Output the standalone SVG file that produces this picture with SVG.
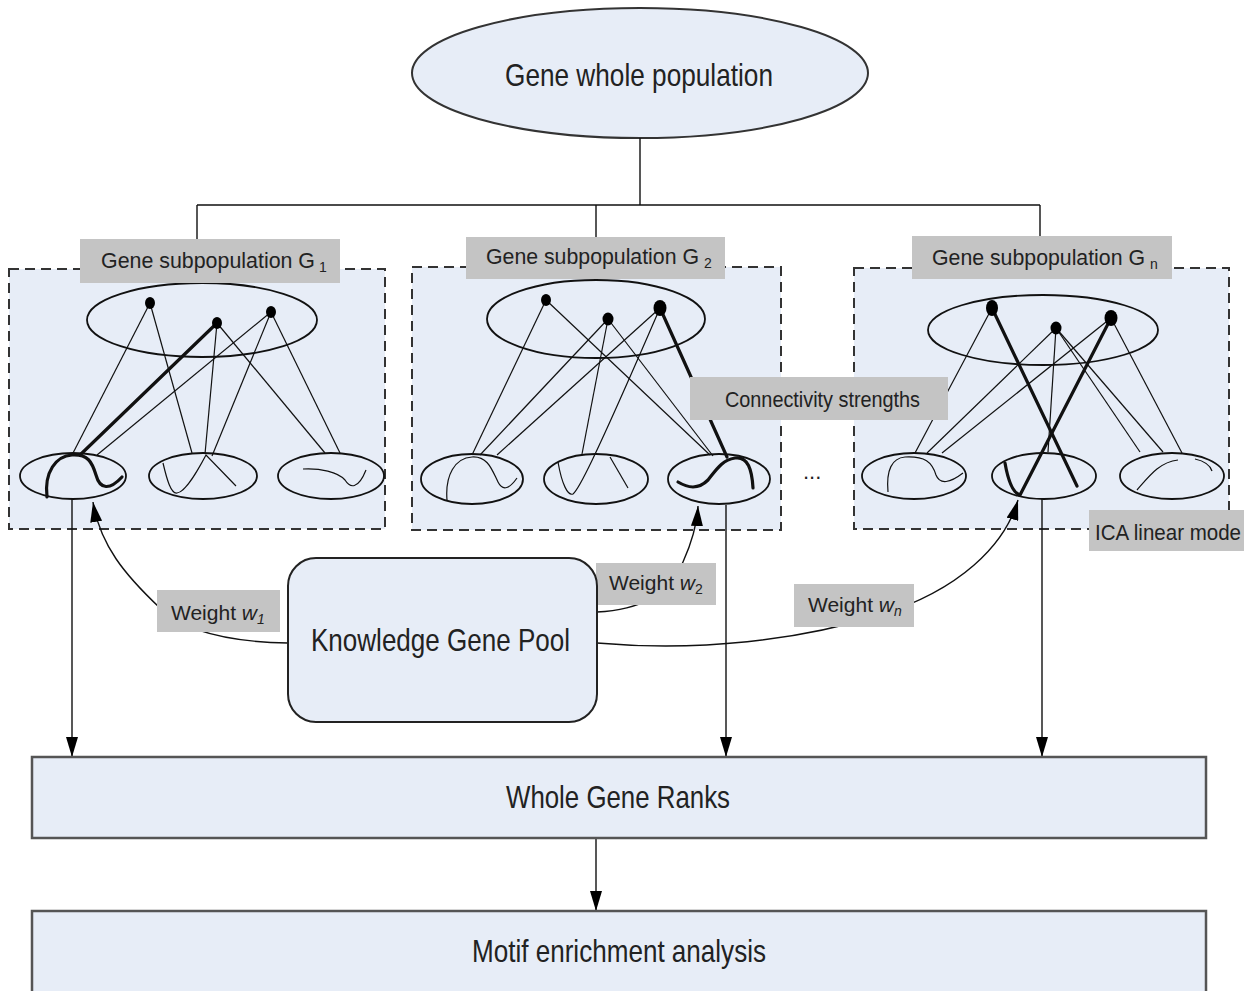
<svg xmlns="http://www.w3.org/2000/svg" width="1244" height="991" viewBox="0 0 1244 991">
<defs>
<style>
.t{font-family:"Liberation Sans",Arial,sans-serif;fill:#222}
.big{font-size:32px}
.mid{font-size:22px}
.sub{font-size:14px}
.lab{fill:#c4c4c4;stroke:none}
.panel{fill:#e7edf7;stroke:#333;stroke-width:2;stroke-dasharray:10 6}
.ell{fill:none;stroke:#111;stroke-width:1.8}
.thin{fill:none;stroke:#111;stroke-width:1.2}
.thick{fill:none;stroke:#111;stroke-width:3.2;stroke-linecap:round}
.conn{fill:none;stroke:#111;stroke-width:1.4}
.box{fill:#e7edf7;stroke:#555;stroke-width:2.5}
</style>
<marker id="ah" markerUnits="userSpaceOnUse" markerWidth="20" markerHeight="12" refX="20" refY="6" orient="auto">
<path d="M0,0 L20,6 L0,12 z" fill="#000"/>
</marker>
</defs>
<rect width="1244" height="991" fill="#fff"/>

<g id="whole-population">
<ellipse cx="640" cy="73" rx="228" ry="65" fill="#e7edf7" stroke="#333" stroke-width="2"/>
<text class="t big" x="505" y="86" textLength="268" lengthAdjust="spacingAndGlyphs">Gene whole population</text>
</g>

<g id="panel-1">
<rect class="panel" x="9" y="269" width="376" height="260"/>
<ellipse class="ell" cx="202" cy="320" rx="115" ry="37"/>
<ellipse class="ell" cx="73" cy="476" rx="53" ry="23"/>
<ellipse class="ell" cx="203" cy="476" rx="54" ry="23"/>
<ellipse class="ell" cx="331" cy="476" rx="53" ry="23"/>
<line class="thin" x1="150" y1="303" x2="72" y2="455"/>
<line class="thin" x1="150" y1="303" x2="192" y2="453"/>
<line class="thin" x1="217" y1="323" x2="205" y2="454"/>
<line class="thin" x1="217" y1="323" x2="325" y2="453"/>
<line class="thin" x1="271" y1="312" x2="97" y2="455"/>
<line class="thin" x1="271" y1="312" x2="212" y2="456"/>
<line class="thin" x1="271" y1="312" x2="340" y2="453"/>
<line class="thick" x1="217" y1="323" x2="80" y2="455"/>
<path class="thick" d="M47,497 C44,472 56,456 72,455 C88,454 92,462 96,475 C100,490 110,490 122,477"/>
<path class="thin" d="M163,463 C167,480 171,494 177,493 C186,492 198,470 206,455 L236,486"/>
<path class="thin" d="M303,469 C320,468 338,472 345,480 C350,488 358,490 366,470"/>
<ellipse cx="150" cy="303" rx="5" ry="6" fill="#000"/>
<ellipse cx="217" cy="323" rx="5" ry="6" fill="#000"/>
<ellipse cx="271" cy="312" rx="5" ry="6" fill="#000"/>
<rect class="lab" x="80" y="239" width="260" height="44"/>
<text class="t mid" x="101" y="268" textLength="214" lengthAdjust="spacingAndGlyphs">Gene subpopulation G</text>
<text class="t sub" x="319" y="272">1</text>
</g>

<g id="panel-2">
<rect class="panel" x="412" y="267" width="369" height="263"/>
<ellipse class="ell" cx="596" cy="319" rx="109" ry="39"/>
<ellipse class="ell" cx="472" cy="479" rx="51" ry="25"/>
<ellipse class="ell" cx="596" cy="479" rx="52" ry="25"/>
<ellipse class="ell" cx="719" cy="479" rx="51" ry="25"/>
<line class="thin" x1="546" y1="300" x2="472" y2="455"/>
<line class="thin" x1="546" y1="300" x2="710" y2="455"/>
<line class="thin" x1="608" y1="319" x2="480" y2="455"/>
<line class="thin" x1="608" y1="319" x2="582" y2="454"/>
<line class="thin" x1="608" y1="319" x2="713" y2="456"/>
<line class="thin" x1="660" y1="308" x2="497" y2="455"/>
<path class="thin" d="M558,462 C562,485 568,496 573,494 C578,490 590,470 660,308"/>
<line class="thin" x1="610" y1="457" x2="628" y2="488"/>
<line class="thick" x1="660" y1="308" x2="727" y2="457"/>
<path class="thin" d="M447,500 C445,475 455,458 472,457 C488,456 492,470 498,482 C503,492 510,488 517,478"/>
<path class="thick" d="M678,482 C688,488 698,490 708,480 C716,470 722,460 735,458 C748,456 752,470 753,488"/>
<ellipse cx="546" cy="300" rx="5" ry="6" fill="#000"/>
<ellipse cx="608" cy="319" rx="5.5" ry="6.5" fill="#000"/>
<ellipse cx="660" cy="308" rx="6.5" ry="8" fill="#000"/>
<rect class="lab" x="466" y="237" width="259" height="42"/>
<text class="t mid" x="486" y="264" textLength="213" lengthAdjust="spacingAndGlyphs">Gene subpopulation G</text>
<text class="t sub" x="704" y="268">2</text>
</g>

<g id="panel-n">
<rect class="panel" x="854" y="268" width="375" height="261"/>
<ellipse class="ell" cx="1043" cy="330" rx="115" ry="35"/>
<ellipse class="ell" cx="914" cy="476" rx="52" ry="23"/>
<ellipse class="ell" cx="1044" cy="476" rx="52" ry="23"/>
<ellipse class="ell" cx="1172" cy="476" rx="52" ry="23"/>
<line class="thin" x1="992" y1="308" x2="915" y2="453"/>
<line class="thin" x1="1056" y1="328" x2="927" y2="453"/>
<line class="thin" x1="1056" y1="328" x2="1048" y2="452"/>
<line class="thin" x1="1056" y1="328" x2="1140" y2="452"/>
<line class="thin" x1="1056" y1="328" x2="1163" y2="452"/>
<line class="thin" x1="1111" y1="318" x2="942" y2="453"/>
<line class="thin" x1="1111" y1="318" x2="1182" y2="453"/>
<line class="thick" x1="992" y1="308" x2="1077" y2="486"/>
<path class="thick" d="M1005,463 C1008,480 1013,493 1020,495 L1111,318"/>
<path class="thin" d="M888,492 C886,470 892,458 905,457 C925,456 932,462 936,475 C940,485 950,483 963,473"/>
<path class="thin" d="M1137,490 C1150,475 1160,462 1178,460"/>
<path class="thin" d="M1195,459 C1204,461 1210,465 1212,471"/>
<ellipse cx="992" cy="308" rx="6" ry="8" fill="#000"/>
<ellipse cx="1056" cy="328" rx="5.5" ry="6.5" fill="#000"/>
<ellipse cx="1111" cy="318" rx="6.5" ry="8" fill="#000"/>
<rect class="lab" x="912" y="236" width="260" height="43"/>
<text class="t mid" x="932" y="265" textLength="213" lengthAdjust="spacingAndGlyphs">Gene subpopulation G</text>
<text class="t sub" x="1150" y="269">n</text>
</g>

<g id="connectivity-label">
<rect class="lab" x="690" y="377" width="258" height="43"/>
<text class="t mid" x="725" y="407" textLength="195" lengthAdjust="spacingAndGlyphs">Connectivity strengths</text>
</g>

<g id="ellipsis">
<text class="t mid" x="803" y="479">...</text>
</g>

<g id="ica-label">
<rect class="lab" x="1089" y="510" width="160" height="41"/>
<text class="t mid" x="1095" y="540" textLength="146" lengthAdjust="spacingAndGlyphs">ICA linear mode</text>
</g>

<g id="connectors">
<path class="conn" d="M640,138 V205 M197,205 H1040 M197,205 V239 M596,205 V237 M1040,205 V236"/>
<line class="conn" x1="72" y1="499" x2="72" y2="757" marker-end="url(#ah)"/>
<line class="conn" x1="726" y1="505" x2="726" y2="757" marker-end="url(#ah)"/>
<line class="conn" x1="1042" y1="499" x2="1042" y2="757" marker-end="url(#ah)"/>
<line class="conn" x1="596" y1="838" x2="596" y2="911" marker-end="url(#ah)"/>
<path class="conn" d="M288,643 C230,642 185,632 160,608 C125,575 100,545 93,502" marker-end="url(#ah)"/>
<path class="conn" d="M597,612 C640,610 668,595 683,562 C692,542 697,525 698,506" marker-end="url(#ah)"/>
<path class="conn" d="M597,643 C700,652 800,640 880,615 C960,590 1005,545 1018,500" marker-end="url(#ah)"/>
</g>

<g id="weight-labels">
<rect class="lab" x="157" y="590" width="123" height="42"/>
<text class="t" x="171" y="620" font-size="21">Weight <tspan font-style="italic">w</tspan><tspan font-style="italic" font-size="14" dy="4">1</tspan></text>
<rect class="lab" x="596" y="563" width="120" height="42"/>
<text class="t" x="609" y="590" font-size="21">Weight <tspan font-style="italic">w</tspan><tspan font-size="14" dy="4">2</tspan></text>
<rect class="lab" x="794" y="584" width="120" height="43"/>
<text class="t" x="808" y="612" font-size="21">Weight <tspan font-style="italic">w</tspan><tspan font-style="italic" font-size="14" dy="4">n</tspan></text>
</g>

<g id="knowledge-gene-pool">
<rect x="288" y="558" width="309" height="164" rx="28" fill="#e7edf7" stroke="#222" stroke-width="2"/>
<text class="t big" x="311" y="651" textLength="259" lengthAdjust="spacingAndGlyphs">Knowledge Gene Pool</text>
</g>

<g id="whole-gene-ranks">
<rect class="box" x="32" y="757" width="1174" height="81"/>
<text class="t big" x="506" y="808" textLength="224" lengthAdjust="spacingAndGlyphs">Whole Gene Ranks</text>
</g>

<g id="motif-enrichment">
<rect class="box" x="32" y="911" width="1174" height="100"/>
<text class="t big" x="472" y="962" textLength="294" lengthAdjust="spacingAndGlyphs">Motif enrichment analysis</text>
</g>
</svg>
